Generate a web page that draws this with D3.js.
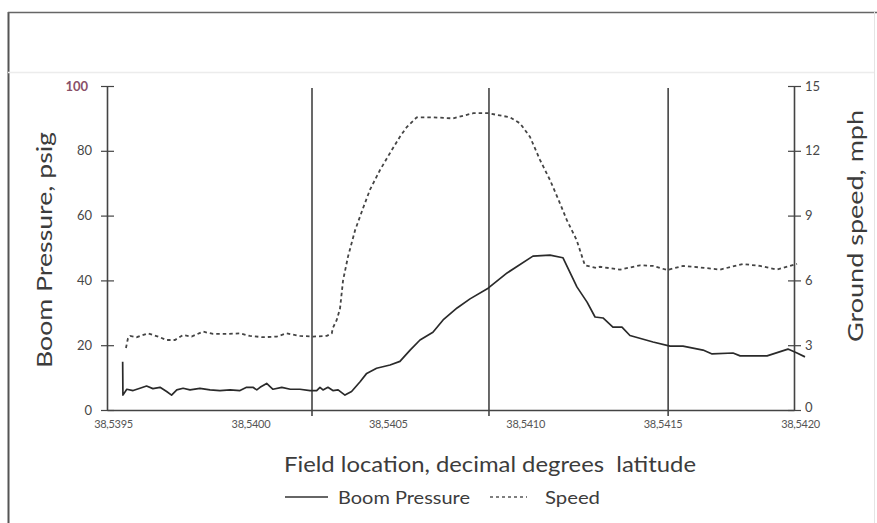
<!DOCTYPE html>
<html>
<head>
<meta charset="utf-8">
<script src="https://cdn.jsdelivr.net/npm/d3@7"></script>
<style>
  html, body { margin: 0; padding: 0; background: #fff; }
  svg { display: block; }
  text { font-family: Lato, "Open Sans", sans-serif; }
</style>
</head>
<body>
<svg id="chart" width="877" height="523"></svg>
<script>
// Latitude of each boom pressure sample (decimal degrees)
const pressureLat = [
  38.539557, 38.539558, 38.539572, 38.539595, 38.539620, 38.539644, 38.539667, 38.539693,
  38.539717, 38.539735, 38.539754, 38.539777, 38.539802, 38.539838, 38.539875, 38.539911,
  38.539948, 38.539984, 38.540008, 38.540031, 38.540045, 38.540057, 38.540081, 38.540104,
  38.540136, 38.540167, 38.540202, 38.540239, 38.540263, 38.540275, 38.540286, 38.540304,
  38.540322, 38.540341, 38.540366, 38.540390, 38.540421, 38.540445, 38.540481, 38.540530,
  38.540566, 38.540603, 38.540639, 38.540686, 38.540723, 38.540774, 38.540821, 38.540887,
  38.540956, 38.541050, 38.541112, 38.541159, 38.541210, 38.541247, 38.541276, 38.541305,
  38.541341, 38.541374, 38.541403, 38.541487, 38.541549, 38.541596, 38.541669, 38.541702,
  38.541778, 38.541804, 38.541902, 38.541978, 38.542011, 38.542040
];
// Boom pressure, psig
const pressure = [
  14.9, 4.6, 6.4, 6.0, 6.7, 7.4, 6.6, 7.0,
  5.7, 4.6, 6.2, 6.7, 6.2, 6.7, 6.2, 6.0,
  6.2, 6.0, 7.0, 7.0, 6.2, 7.0, 8.2, 6.4,
  7.0, 6.4, 6.4, 6.0, 6.0, 7.0, 6.2, 7.0,
  6.0, 6.2, 4.6, 5.7, 8.7, 11.3, 12.9, 13.9,
  15.0, 18.5, 21.6, 24.0, 27.8, 31.5, 34.3, 37.6,
  42.3, 47.5, 47.8, 47.0, 38.0, 33.3, 28.7, 28.4,
  25.6, 25.6, 23.0, 21.0, 19.7, 19.7, 18.5, 17.3,
  17.6, 16.7, 16.7, 18.8, 17.6, 16.4
];

// Latitude of each ground speed sample (decimal degrees)
const speedLat = [
  38.539569, 38.539576, 38.539584, 38.539608, 38.539649, 38.539686, 38.539717, 38.539747,
  38.539777, 38.539808, 38.539849, 38.539886, 38.539936, 38.539984, 38.540020, 38.540068,
  38.540118, 38.540154, 38.540202, 38.540250, 38.540300, 38.540318, 38.540322, 38.540336,
  38.540348, 38.540359, 38.540377, 38.540403, 38.540432, 38.540457, 38.540493, 38.540530,
  38.540566, 38.540591, 38.540627, 38.540686, 38.540759, 38.540833, 38.540887, 38.540967,
  38.541003, 38.541039, 38.541076, 38.541112, 38.541148, 38.541173, 38.541209, 38.541239,
  38.541282, 38.541294, 38.541367, 38.541440, 38.541487, 38.541538, 38.541596, 38.541658,
  38.541731, 38.541814, 38.541876, 38.541938, 38.542011
];
// Ground speed, mph
const speed = [
  2.87, 3.30, 3.43, 3.37, 3.55, 3.40, 3.24, 3.24,
  3.47, 3.40, 3.63, 3.52, 3.52, 3.55, 3.43, 3.37,
  3.40, 3.55, 3.43, 3.40, 3.43, 3.55, 3.80, 4.17,
  4.70, 6.00, 7.10, 8.33, 9.35, 10.20, 11.10, 11.90,
  12.65, 13.10, 13.55, 13.55, 13.50, 13.74, 13.74, 13.55,
  13.27, 12.65, 11.57, 10.65, 9.58, 8.80, 7.87, 6.70,
  6.57, 6.63, 6.50, 6.70, 6.67, 6.48, 6.67, 6.60,
  6.50, 6.76, 6.67, 6.50, 6.76
];

// Field boundary markers (latitude)
const markerLat = [38.540246, 38.540890, 38.541542];

// Axis ticks
const xTicks = [38.5395, 38.5400, 38.5405, 38.5410, 38.5415, 38.5420];
const xTickLabels = ["38,5395", "38,5400", "38,5405", "38,5410", "38,5415", "38,5420"];
const pressureTicks = [0, 20, 40, 60, 80, 100];
const speedTicks = [0, 3, 6, 9, 12, 15];

const svg = d3.select("#chart");
const W = 877, H = 523;
const plotL = 107, plotR = 794, plotT = 86, plotB = 410;
const textInk = "#3c3c3c";

const x = d3.scaleLinear().domain([38.5395, 38.5420]).range([plotL, plotR]);
const yP = d3.scaleLinear().domain([0, 100]).range([plotB, plotT]);
const yS = d3.scaleLinear().domain([0, 15]).range([plotB, plotT]);

// Frame
svg.append("rect").attr("x", 0).attr("y", 0).attr("width", W).attr("height", H).attr("fill", "#fff");
svg.append("line").attr("x1", 8.5).attr("x2", 8.5).attr("y1", 12).attr("y2", H)
  .attr("stroke", "#555").attr("stroke-width", 2);
svg.append("line").attr("x1", 8).attr("x2", W).attr("y1", 12.5).attr("y2", 12.5)
  .attr("stroke", "#666").attr("stroke-width", 1.5);
svg.append("line").attr("x1", 874.5).attr("x2", 874.5).attr("y1", 12).attr("y2", H)
  .attr("stroke", "#e4e4e4").attr("stroke-width", 1);
svg.append("line").attr("x1", 8).attr("x2", 874).attr("y1", 72.5).attr("y2", 72.5)
  .attr("stroke", "#ececec").attr("stroke-width", 1.5);

// Marker lines
svg.append("g").selectAll("line").data(markerLat).join("line")
  .attr("x1", d => x(d)).attr("x2", d => x(d))
  .attr("y1", plotT + 2).attr("y2", plotB + 6)
  .attr("stroke", "#444").attr("stroke-width", 1.6);

// Left axis
const gL = svg.append("g").attr("transform", `translate(${plotL},0)`)
  .call(d3.axisLeft(yP).tickValues(pressureTicks).tickSize(0).tickPadding(15));
gL.select(".domain").attr("stroke", "#444").attr("stroke-width", 1.6);
gL.selectAll(".tick").append("line").attr("x1", -6).attr("x2", 7).attr("stroke", "#444").attr("stroke-width", 1.2);
gL.selectAll(".tick text").style("font-size", "13px").style("fill", "#474747");
gL.selectAll(".tick text").filter(d => d === 100)
  .style("fill", "#8a5068").style("font-weight", "bold").attr("dx", -4);

// Right axis
const gR = svg.append("g").attr("transform", `translate(${plotR},0)`)
  .call(d3.axisRight(yS).tickValues(speedTicks).tickSize(0).tickPadding(11));
gR.select(".domain").attr("stroke", "#444").attr("stroke-width", 1.6);
gR.selectAll(".tick").append("line").attr("x1", -6).attr("x2", 7).attr("stroke", "#444").attr("stroke-width", 1.2);
gR.selectAll(".tick text").style("font-size", "13px").style("fill", "#474747");
gR.selectAll(".tick text").filter(d => d === 0).attr("dy", "0.15em");

// Bottom axis
const gB = svg.append("g").attr("transform", `translate(0,${plotB})`)
  .call(d3.axisBottom(x).tickValues(xTicks).tickFormat((d, i) => xTickLabels[i]).tickSize(0).tickPadding(10));
gB.select(".domain").attr("stroke", "#444").attr("stroke-width", 1.6);
gB.selectAll(".tick text").style("font-size", "11px").style("fill", "#555").attr("dx", 6)
  .style("letter-spacing", "-0.3px");

// Series
const linePressure = d3.line().x((d, i) => x(pressureLat[i])).y(d => yP(d));
const lineSpeed = d3.line().x((d, i) => x(speedLat[i])).y(d => yS(d));

svg.append("path").datum(speed)
  .attr("d", lineSpeed).attr("fill", "none")
  .attr("stroke", "#444").attr("stroke-width", 1.8).attr("stroke-dasharray", "3.5,3");
svg.append("path").datum(pressure)
  .attr("d", linePressure).attr("fill", "none")
  .attr("stroke", "#2a2a2a").attr("stroke-width", 1.7).attr("stroke-linejoin", "round");

// Axis titles
svg.append("text")
  .attr("transform", `translate(52,250) rotate(-90)`)
  .attr("text-anchor", "middle").style("font-size", "21px").style("fill", textInk)
  .attr("textLength", 236).attr("lengthAdjust", "spacingAndGlyphs")
  .text("Boom Pressure, psig");
svg.append("text")
  .attr("transform", `translate(863,226) rotate(-90)`)
  .attr("text-anchor", "middle").style("font-size", "21px").style("fill", textInk)
  .attr("textLength", 232).attr("lengthAdjust", "spacingAndGlyphs")
  .text("Ground speed, mph");
svg.append("text")
  .attr("x", 490).attr("y", 472)
  .attr("text-anchor", "middle").style("font-size", "21px").style("fill", textInk)
  .style("white-space", "pre")
  .attr("textLength", 412).attr("lengthAdjust", "spacingAndGlyphs")
  .text("Field location, decimal degrees  latitude");

// Legend
const lg = svg.append("g");
lg.append("line").attr("x1", 285).attr("x2", 328).attr("y1", 497).attr("y2", 497)
  .attr("stroke", "#333").attr("stroke-width", 1.5);
lg.append("text").attr("x", 338).attr("y", 504).style("font-size", "18px").style("fill", textInk)
  .attr("textLength", 132).attr("lengthAdjust", "spacingAndGlyphs").text("Boom Pressure");
lg.append("line").attr("x1", 490).attr("x2", 527).attr("y1", 497).attr("y2", 497)
  .attr("stroke", "#555").attr("stroke-width", 1.5).attr("stroke-dasharray", "3,3");
lg.append("text").attr("x", 545).attr("y", 504).style("font-size", "18px").style("fill", textInk)
  .attr("textLength", 55).attr("lengthAdjust", "spacingAndGlyphs").text("Speed");
</script>
</body>
</html>
